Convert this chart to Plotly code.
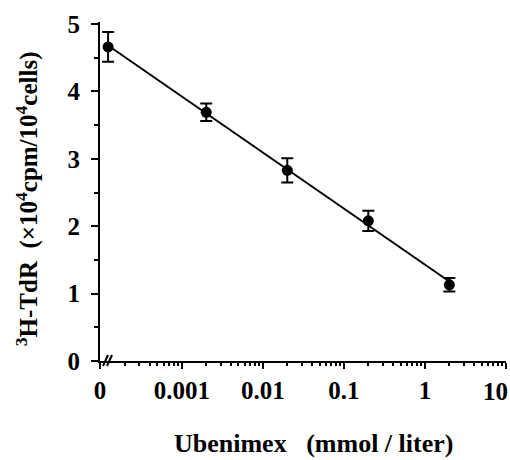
import numpy as np
import plotly.graph_objects as go

# ---- data ----
conc = [0, 0.002, 0.02, 0.2, 2]            # Ubenimex, mmol / liter
tdr = [4.66, 3.69, 2.83, 2.08, 1.13]       # 3H-TdR, x10^4 cpm / 10^4 cells
tdr_err = [0.22, 0.13, 0.18, 0.15, 0.10]
x_tick_vals = [10 ** -4.01, 0.001, 0.01, 0.1, 1, 10]
x_tick_text = ["0", "0.001", "0.01", "0.1", "1", ""]
y_tick_vals = [0, 1, 2, 3, 4, 5]
y_tick_text = ["0", "1", "2", "3", "4", "5"]

# control (0) drawn just right of the axis break
ZERO_POS = 10 ** -3.91
xplot = [c if c > 0 else ZERO_POS for c in conc]

# regression line through the points (log concentration)
lx = np.log10(xplot)
slope, icpt = np.polyfit(lx, tdr, 1)
fit_x = [xplot[0], xplot[-1]]
fit_y = [slope * np.log10(v) + icpt for v in fit_x]

FONT = "Liberation Serif"
BLACK = "black"
TICK_FONT = dict(family=FONT, size=25, weight="bold", color=BLACK)

fig = go.Figure()
fig.add_trace(go.Scatter(x=fit_x, y=fit_y, mode="lines",
                         line=dict(color=BLACK, width=2), hoverinfo="skip"))
fig.add_trace(go.Scatter(
    x=xplot, y=tdr, mode="markers",
    marker=dict(color=BLACK, size=11),
    error_y=dict(type="data", array=tdr_err, color=BLACK, thickness=2, width=6),
))

minor_x = [k * 10.0 ** e for e in range(-4, 1) for k in range(2, 10)]
minor_y = [0.5, 1.5, 2.5, 3.5, 4.5]

fig.update_layout(
    width=510, height=460,
    margin=dict(l=100, r=4, t=22, b=99),
    paper_bgcolor="white", plot_bgcolor="white",
    showlegend=False,
    font=dict(family=FONT, color=BLACK),
    xaxis=dict(
        type="log", range=[-4.01, 1.0],
        showline=True, linecolor=BLACK, linewidth=2,
        showgrid=False, zeroline=False,
        ticks="outside", ticklen=6, tickwidth=2, tickcolor=BLACK,
        tickmode="array", tickvals=x_tick_vals, ticktext=x_tick_text,
        tickfont=TICK_FONT,
        ticklabelstandoff=0,
        minor=dict(tickmode="array", tickvals=minor_x, ticks="outside",
                   ticklen=3, tickwidth=1.5, tickcolor=BLACK, showgrid=False),
        automargin=False,
    ),
    yaxis=dict(
        range=[0, 5.03],
        showline=True, linecolor=BLACK, linewidth=2,
        showgrid=False, zeroline=False,
        ticks="outside", ticklen=7, tickwidth=2, tickcolor=BLACK,
        tickmode="array", tickvals=y_tick_vals, ticktext=y_tick_text,
        tickfont=TICK_FONT,
        ticklabelstandoff=6,
        minor=dict(tickmode="array", tickvals=minor_y, ticks="outside",
                   ticklen=4, tickwidth=1.5, tickcolor=BLACK, showgrid=False),
        automargin=False,
    ),
)

# axis break "//"
for x0 in (103, 107):
    fig.add_shape(type="line", xref="paper", yref="paper",
                  x0=(x0 - 100) / 406, x1=(x0 + 5 - 100) / 406,
                  y0=(361 - 366) / 339, y1=(361 - 355) / 339,
                  line=dict(color=BLACK, width=2))

# "10" label (kept inside the picture)
fig.add_annotation(x=1, y=-0.045, xref="x", yref="paper",
                   text="10", showarrow=False, xanchor="right", yanchor="top",
                   xshift=4, font=TICK_FONT)

# axis titles
fig.add_annotation(x=0.527, y=-0.242, xref="paper", yref="paper",
                   text="Ubenimex   (mmol / liter)", showarrow=False,
                   xanchor="center", yanchor="middle",
                   font=dict(family=FONT, size=26, weight="bold", color=BLACK))
fig.add_annotation(x=-0.18, y=0.48, xref="paper", yref="paper",
                   text="<sup>3</sup>H-TdR  (×10<sup>4</sup>cpm/10<sup>4</sup>cells)",
                   showarrow=False, textangle=-90,
                   xanchor="center", yanchor="middle",
                   font=dict(family=FONT, size=25, weight="bold", color=BLACK))

fig.write_html("out.html")
